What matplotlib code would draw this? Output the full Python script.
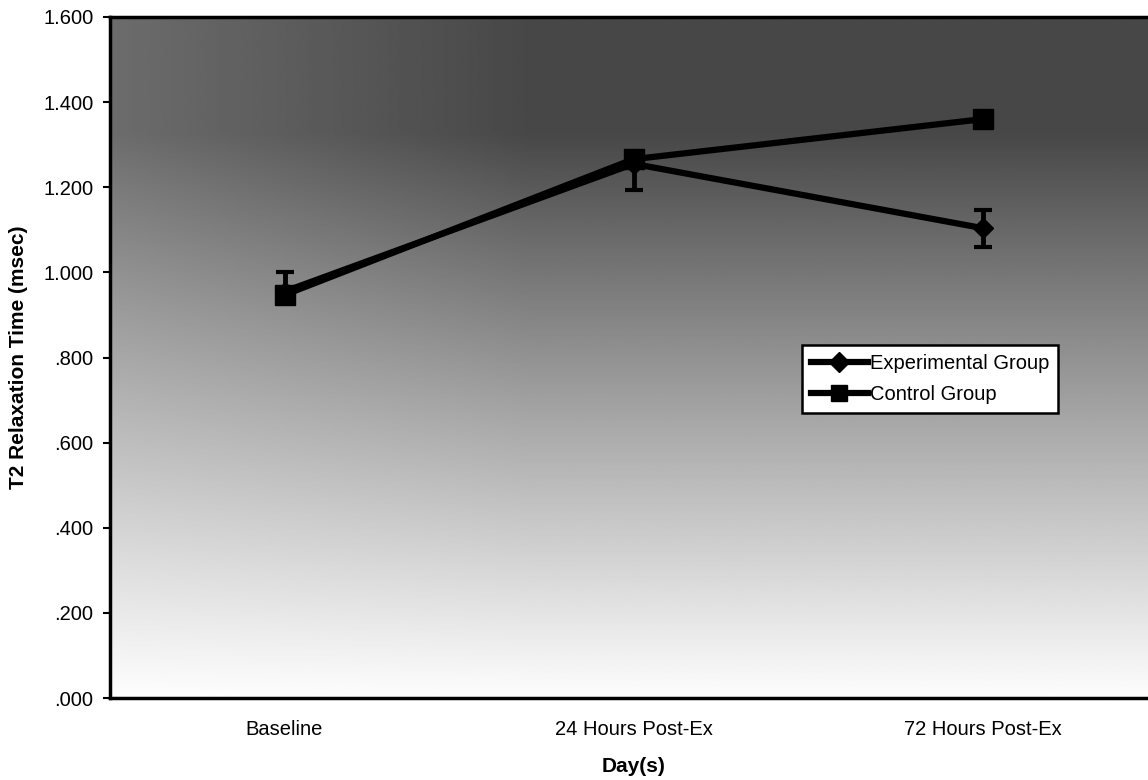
import numpy as np
import matplotlib
matplotlib.use("Agg")
import matplotlib.pyplot as plt
from matplotlib.ticker import FuncFormatter

plt.rcParams["font.family"] = ["Liberation Sans", "DejaVu Sans"]

# T2 relaxation time by day
days = ["Baseline", "24 Hours Post-Ex", "72 Hours Post-Ex"]
experimental = [0.955, 1.255, 1.104]
experimental_err_lo = [0.02, 0.062, 0.045]
experimental_err_hi = [0.045, 0.02, 0.042]
control = [0.947, 1.266, 1.360]

y_ticks = [0.0, 0.2, 0.4, 0.6, 0.8, 1.0, 1.2, 1.4, 1.6]

W, H = 1148, 780
fig = plt.figure(figsize=(W / 100, H / 100), dpi=100)
ax = fig.add_axes([110 / W, (H - 698) / H, 1047 / W, 681 / H])

x = np.arange(len(days))
ax.set_xlim(-0.5, len(days) - 0.5)
ax.set_ylim(0, 1.6)

# shaded plot-area fill: dark at the top, fading to white towards the axis
gx = np.linspace(-0.5, 2.5, 300)
gy = np.linspace(0, 1.6, 300)
GX, GY = np.meshgrid(gx, gy)
t = np.clip((GY + 0.02) / 1.35, 0, 1) ** 1.05
side = 0.8 + 0.2 * np.clip((GX + 0.5) / 1.2, 0, 1)
dark = 0.72 * t * side
ax.imshow(1 - dark, cmap="gray", vmin=0, vmax=1, origin="lower",
          extent=(-0.5, 2.5, 0, 1.6), aspect="auto", zorder=0,
          interpolation="bilinear")

ax.errorbar(x, experimental, yerr=[experimental_err_lo, experimental_err_hi],
            fmt="none", ecolor="black", elinewidth=3.5,
            capsize=6.5, capthick=3, zorder=3)
ax.plot(x, experimental, color="black", lw=4.5, marker="D", ms=10,
        label="Experimental Group", zorder=3)
ax.plot(x, control, color="black", lw=4.5, marker="s", ms=15,
        label="Control Group", zorder=4)

ax.set_xticks(x)
ax.set_xticklabels(days, fontsize=14.5)
ax.tick_params(axis="x", length=0, pad=16)
ax.set_yticks(y_ticks)
ax.yaxis.set_major_formatter(
    FuncFormatter(lambda v, _: f"{v:.3f}".lstrip("0") if v < 1 else f"{v:.3f}"))
ax.tick_params(axis="y", labelsize=14.5, length=5, width=1.5, pad=7)

for side_name in ("left", "bottom", "top"):
    ax.spines[side_name].set_linewidth(2.5)
ax.spines["right"].set_visible(False)

ax.set_xlabel("Day(s)", fontsize=15, fontweight="bold", labelpad=13)
ax.set_ylabel("T2 Relaxation Time (msec)", fontsize=15, fontweight="bold",
              labelpad=11)

leg = ax.legend(loc="upper left", bbox_to_anchor=(0.661, 0.518),
                borderaxespad=0, fontsize=14.5, handlelength=2.8,
                handletextpad=0.1, labelspacing=0.6, borderpad=0.45,
                fancybox=False, framealpha=1, edgecolor="black")
leg.get_frame().set_linewidth(1.8)
leg.legend_handles[1].set_markersize(11)

fig.savefig("out.png", dpi=100)
